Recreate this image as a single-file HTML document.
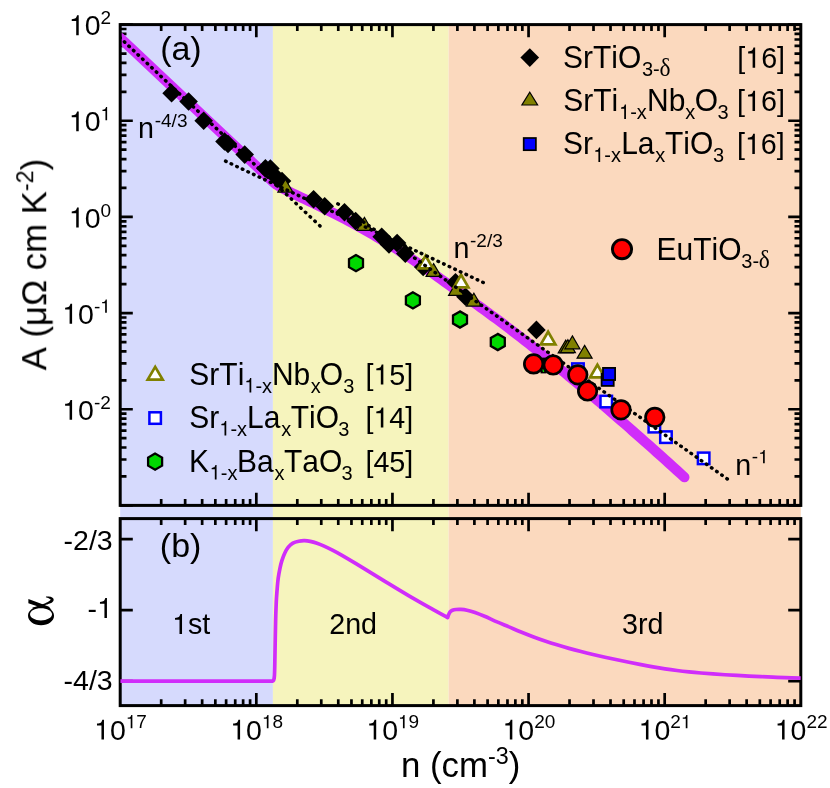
<!DOCTYPE html>
<html><head><meta charset="utf-8"><title>chart</title>
<style>html,body{margin:0;padding:0;background:#fff;}svg{display:block;will-change:transform;}text{font-kerning:none;}</style>
</head><body>
<svg width="830" height="788" viewBox="0 0 830 788">
<rect width="830" height="788" fill="#ffffff"/>
<rect x="120.20" y="24.60" width="152.70" height="681.00" fill="#d6dafd"/>
<rect x="272.90" y="24.60" width="175.70" height="681.00" fill="#f6f4bd"/>
<rect x="448.60" y="24.60" width="352.20" height="681.00" fill="#fbd9be"/>
<defs>
<clipPath id="ca"><rect x="120.20" y="24.60" width="680.60" height="480.80"/></clipPath>
<clipPath id="cb"><rect x="120.20" y="518.60" width="680.60" height="187.00"/></clipPath>
<filter id="ga" x="0" y="0" width="830" height="788" filterUnits="userSpaceOnUse" color-interpolation-filters="sRGB"><feOffset dx="0" dy="0"/></filter>
</defs>
<path d="M161.18,24.60v6.30M161.18,505.40v-6.30M161.18,518.60v6.30M161.18,705.60v-6.30M185.15,24.60v6.30M185.15,505.40v-6.30M185.15,518.60v6.30M185.15,705.60v-6.30M202.15,24.60v6.30M202.15,505.40v-6.30M202.15,518.60v6.30M202.15,705.60v-6.30M215.34,24.60v6.30M215.34,505.40v-6.30M215.34,518.60v6.30M215.34,705.60v-6.30M226.12,24.60v6.30M226.12,505.40v-6.30M226.12,518.60v6.30M226.12,705.60v-6.30M235.23,24.60v6.30M235.23,505.40v-6.30M235.23,518.60v6.30M235.23,705.60v-6.30M243.13,24.60v6.30M243.13,505.40v-6.30M243.13,518.60v6.30M243.13,705.60v-6.30M250.09,24.60v6.30M250.09,505.40v-6.30M250.09,518.60v6.30M250.09,705.60v-6.30M256.32,24.60v12.60M256.32,505.40v-12.60M256.32,518.60v12.60M256.32,705.60v-12.60M297.30,24.60v6.30M297.30,505.40v-6.30M297.30,518.60v6.30M297.30,705.60v-6.30M321.27,24.60v6.30M321.27,505.40v-6.30M321.27,518.60v6.30M321.27,705.60v-6.30M338.27,24.60v6.30M338.27,505.40v-6.30M338.27,518.60v6.30M338.27,705.60v-6.30M351.46,24.60v6.30M351.46,505.40v-6.30M351.46,518.60v6.30M351.46,705.60v-6.30M362.24,24.60v6.30M362.24,505.40v-6.30M362.24,518.60v6.30M362.24,705.60v-6.30M371.35,24.60v6.30M371.35,505.40v-6.30M371.35,518.60v6.30M371.35,705.60v-6.30M379.25,24.60v6.30M379.25,505.40v-6.30M379.25,518.60v6.30M379.25,705.60v-6.30M386.21,24.60v6.30M386.21,505.40v-6.30M386.21,518.60v6.30M386.21,705.60v-6.30M392.44,24.60v12.60M392.44,505.40v-12.60M392.44,518.60v12.60M392.44,705.60v-12.60M433.42,24.60v6.30M433.42,505.40v-6.30M433.42,518.60v6.30M433.42,705.60v-6.30M457.39,24.60v6.30M457.39,505.40v-6.30M457.39,518.60v6.30M457.39,705.60v-6.30M474.39,24.60v6.30M474.39,505.40v-6.30M474.39,518.60v6.30M474.39,705.60v-6.30M487.58,24.60v6.30M487.58,505.40v-6.30M487.58,518.60v6.30M487.58,705.60v-6.30M498.36,24.60v6.30M498.36,505.40v-6.30M498.36,518.60v6.30M498.36,705.60v-6.30M507.47,24.60v6.30M507.47,505.40v-6.30M507.47,518.60v6.30M507.47,705.60v-6.30M515.37,24.60v6.30M515.37,505.40v-6.30M515.37,518.60v6.30M515.37,705.60v-6.30M522.33,24.60v6.30M522.33,505.40v-6.30M522.33,518.60v6.30M522.33,705.60v-6.30M528.56,24.60v12.60M528.56,505.40v-12.60M528.56,518.60v12.60M528.56,705.60v-12.60M569.54,24.60v6.30M569.54,505.40v-6.30M569.54,518.60v6.30M569.54,705.60v-6.30M593.51,24.60v6.30M593.51,505.40v-6.30M593.51,518.60v6.30M593.51,705.60v-6.30M610.51,24.60v6.30M610.51,505.40v-6.30M610.51,518.60v6.30M610.51,705.60v-6.30M623.70,24.60v6.30M623.70,505.40v-6.30M623.70,518.60v6.30M623.70,705.60v-6.30M634.48,24.60v6.30M634.48,505.40v-6.30M634.48,518.60v6.30M634.48,705.60v-6.30M643.59,24.60v6.30M643.59,505.40v-6.30M643.59,518.60v6.30M643.59,705.60v-6.30M651.49,24.60v6.30M651.49,505.40v-6.30M651.49,518.60v6.30M651.49,705.60v-6.30M658.45,24.60v6.30M658.45,505.40v-6.30M658.45,518.60v6.30M658.45,705.60v-6.30M664.68,24.60v12.60M664.68,505.40v-12.60M664.68,518.60v12.60M664.68,705.60v-12.60M705.66,24.60v6.30M705.66,505.40v-6.30M705.66,518.60v6.30M705.66,705.60v-6.30M729.63,24.60v6.30M729.63,505.40v-6.30M729.63,518.60v6.30M729.63,705.60v-6.30M746.63,24.60v6.30M746.63,505.40v-6.30M746.63,518.60v6.30M746.63,705.60v-6.30M759.82,24.60v6.30M759.82,505.40v-6.30M759.82,518.60v6.30M759.82,705.60v-6.30M770.60,24.60v6.30M770.60,505.40v-6.30M770.60,518.60v6.30M770.60,705.60v-6.30M779.71,24.60v6.30M779.71,505.40v-6.30M779.71,518.60v6.30M779.71,705.60v-6.30M787.61,24.60v6.30M787.61,505.40v-6.30M787.61,518.60v6.30M787.61,705.60v-6.30M794.57,24.60v6.30M794.57,505.40v-6.30M794.57,518.60v6.30M794.57,705.60v-6.30M120.20,505.40h12.60M800.80,505.40h-12.60M120.20,476.45h6.30M800.80,476.45h-6.30M120.20,459.52h6.30M800.80,459.52h-6.30M120.20,447.51h6.30M800.80,447.51h-6.30M120.20,438.19h6.30M800.80,438.19h-6.30M120.20,430.57h6.30M800.80,430.57h-6.30M120.20,424.14h6.30M800.80,424.14h-6.30M120.20,418.56h6.30M800.80,418.56h-6.30M120.20,413.64h6.30M800.80,413.64h-6.30M120.20,409.24h12.60M800.80,409.24h-12.60M120.20,380.29h6.30M800.80,380.29h-6.30M120.20,363.36h6.30M800.80,363.36h-6.30M120.20,351.35h6.30M800.80,351.35h-6.30M120.20,342.03h6.30M800.80,342.03h-6.30M120.20,334.41h6.30M800.80,334.41h-6.30M120.20,327.98h6.30M800.80,327.98h-6.30M120.20,322.40h6.30M800.80,322.40h-6.30M120.20,317.48h6.30M800.80,317.48h-6.30M120.20,313.08h12.60M800.80,313.08h-12.60M120.20,284.13h6.30M800.80,284.13h-6.30M120.20,267.20h6.30M800.80,267.20h-6.30M120.20,255.19h6.30M800.80,255.19h-6.30M120.20,245.87h6.30M800.80,245.87h-6.30M120.20,238.25h6.30M800.80,238.25h-6.30M120.20,231.82h6.30M800.80,231.82h-6.30M120.20,226.24h6.30M800.80,226.24h-6.30M120.20,221.32h6.30M800.80,221.32h-6.30M120.20,216.92h12.60M800.80,216.92h-12.60M120.20,187.97h6.30M800.80,187.97h-6.30M120.20,171.04h6.30M800.80,171.04h-6.30M120.20,159.03h6.30M800.80,159.03h-6.30M120.20,149.71h6.30M800.80,149.71h-6.30M120.20,142.09h6.30M800.80,142.09h-6.30M120.20,135.66h6.30M800.80,135.66h-6.30M120.20,130.08h6.30M800.80,130.08h-6.30M120.20,125.16h6.30M800.80,125.16h-6.30M120.20,120.76h12.60M800.80,120.76h-12.60M120.20,91.81h6.30M800.80,91.81h-6.30M120.20,74.88h6.30M800.80,74.88h-6.30M120.20,62.87h6.30M800.80,62.87h-6.30M120.20,53.55h6.30M800.80,53.55h-6.30M120.20,45.93h6.30M800.80,45.93h-6.30M120.20,39.50h6.30M800.80,39.50h-6.30M120.20,33.92h6.30M800.80,33.92h-6.30M120.20,29.00h6.30M800.80,29.00h-6.30M120.20,24.60h12.60M800.80,24.60h-12.60M120.20,539.20h12.60M800.80,539.20h-12.60M120.20,610.20h12.60M800.80,610.20h-12.60M120.20,681.20h12.60M800.80,681.20h-12.60" fill="none" stroke="#000" stroke-width="2.7"/>
<g clip-path="url(#ca)">
<path d="M120.2,37.9 L272.9,181.7 L276.9,185.0 L280.9,187.4 L284.9,189.5 L288.9,191.5 L292.9,193.5 L296.9,195.4 L300.9,197.3 L304.9,199.2 L308.9,201.1 L312.9,203.0 L316.9,205.0 L320.9,206.9 L324.9,208.9 L328.9,210.9 L332.9,212.9 L336.9,214.9 L340.9,217.0 L344.9,219.1 L348.9,221.2 L352.9,223.4 L356.9,225.6 L360.9,227.8 L364.9,230.1 L368.9,232.4 L372.9,234.7 L376.9,237.0 L380.9,239.4 L384.9,241.9 L388.9,244.3 L392.9,246.8 L396.9,249.3 L400.9,251.9 L404.9,254.4 L408.9,257.1 L412.9,259.7 L416.9,262.4 L420.9,265.1 L424.9,267.8 L428.9,270.6 L432.9,273.4 L436.9,276.2 L440.9,279.1 L444.9,282.0 L448.9,284.9 L452.9,287.7 L456.9,290.5 L460.9,293.3 L464.9,296.1 L468.9,299.0 L472.9,301.8 L476.9,304.6 L480.9,307.5 L484.9,310.4 L488.9,313.3 L492.9,316.3 L496.9,319.2 L500.9,322.2 L504.9,325.2 L508.9,328.3 L512.9,331.3 L516.9,334.4 L520.9,337.5 L524.9,340.6 L528.9,343.7 L532.9,346.9 L536.9,350.1 L540.9,353.3 L544.9,356.5 L548.9,359.7 L552.9,363.0 L556.9,366.3 L560.9,369.6 L564.9,372.9 L568.9,376.2 L572.9,379.5 L576.9,382.9 L580.9,386.2 L584.9,389.6 L588.9,393.0 L592.9,396.4 L596.9,399.8 L600.9,403.2 L604.9,406.7 L608.9,410.1 L612.9,413.6 L616.9,417.1 L620.9,420.5 L624.9,424.0 L628.9,427.5 L632.9,431.1 L636.9,434.6 L640.9,438.1 L644.9,441.7 L648.9,445.2 L652.9,448.8 L656.9,452.4 L660.9,455.9 L664.9,459.5 L668.9,463.1 L672.9,466.8 L676.9,470.4 L680.9,474.0 L684.4,477.2" fill="none" stroke="#d02dfa" stroke-width="10.2" stroke-linecap="round" stroke-linejoin="round"/>
</g>
<polygon points="356.0,255.0 349.0,259.1 349.0,267.2 356.0,271.2 363.0,267.2 363.0,259.1" fill="#00d800" stroke="#000" stroke-width="2.3" stroke-linejoin="miter"/>
<polygon points="412.9,292.3 405.9,296.3 405.9,304.4 412.9,308.5 419.9,304.4 419.9,296.3" fill="#00d800" stroke="#000" stroke-width="2.3" stroke-linejoin="miter"/>
<polygon points="460.0,311.4 453.0,315.4 453.0,323.6 460.0,327.6 467.0,323.6 467.0,315.4" fill="#00d800" stroke="#000" stroke-width="2.3" stroke-linejoin="miter"/>
<polygon points="497.8,333.9 490.8,337.9 490.8,346.1 497.8,350.1 504.8,346.1 504.8,337.9" fill="#00d800" stroke="#000" stroke-width="2.3" stroke-linejoin="miter"/>
<path d="M540.5,357.6 H546.5 V373.4 H540.5Z" fill="#000"/>
<path d="M542.2,369.3 L543.5,369.3 L544.3,372.0 L543.0,372.0Z" fill="#00d800"/>
<path d="M171.6,83.9 L180.9,93.2 L171.6,102.5 L162.3,93.2Z" fill="#000"/>
<path d="M188.6,92.2 L197.9,101.5 L188.6,110.8 L179.3,101.5Z" fill="#000"/>
<path d="M203.7,111.5 L213.0,120.8 L203.7,130.1 L194.4,120.8Z" fill="#000"/>
<path d="M224.5,132.2 L233.8,141.5 L224.5,150.8 L215.2,141.5Z" fill="#000"/>
<path d="M228.0,134.7 L237.3,144.0 L228.0,153.3 L218.7,144.0Z" fill="#000"/>
<path d="M244.7,145.3 L254.0,154.6 L244.7,163.9 L235.4,154.6Z" fill="#000"/>
<path d="M265.4,159.1 L274.7,168.4 L265.4,177.7 L256.1,168.4Z" fill="#000"/>
<path d="M270.4,159.2 L279.7,168.5 L270.4,177.8 L261.1,168.5Z" fill="#000"/>
<path d="M277.0,168.7 L286.3,178.0 L277.0,187.3 L267.7,178.0Z" fill="#000"/>
<path d="M282.0,171.7 L291.3,181.0 L282.0,190.3 L272.7,181.0Z" fill="#000"/>
<path d="M313.6,189.9 L322.9,199.2 L313.6,208.5 L304.3,199.2Z" fill="#000"/>
<path d="M324.7,197.0 L334.0,206.3 L324.7,215.6 L315.4,206.3Z" fill="#000"/>
<path d="M344.5,202.9 L353.8,212.2 L344.5,221.5 L335.2,212.2Z" fill="#000"/>
<path d="M355.6,211.7 L364.9,221.0 L355.6,230.3 L346.3,221.0Z" fill="#000"/>
<path d="M381.7,227.5 L391.0,236.8 L381.7,246.1 L372.4,236.8Z" fill="#000"/>
<path d="M389.0,235.1 L398.3,244.4 L389.0,253.7 L379.7,244.4Z" fill="#000"/>
<path d="M397.1,233.7 L406.4,243.0 L397.1,252.3 L387.8,243.0Z" fill="#000"/>
<path d="M405.3,244.3 L414.6,253.6 L405.3,262.9 L396.0,253.6Z" fill="#000"/>
<path d="M423.2,257.7 L432.5,267.0 L423.2,276.3 L413.9,267.0Z" fill="#000"/>
<path d="M455.5,273.0 L464.8,282.3 L455.5,291.6 L446.2,282.3Z" fill="#000"/>
<path d="M465.5,287.5 L474.8,296.8 L465.5,306.1 L456.2,296.8Z" fill="#000"/>
<path d="M536.4,320.6 L545.7,329.9 L536.4,339.2 L527.1,329.9Z" fill="#000"/>
<path d="M285.4,179.2 L292.9,192.1 L277.9,192.1Z" fill="#808000" stroke="#000" stroke-width="1.2" stroke-linejoin="miter"/>
<path d="M364.4,217.4 L371.9,230.3 L356.9,230.3Z" fill="#808000" stroke="#000" stroke-width="1.2" stroke-linejoin="miter"/>
<path d="M433.6,263.6 L441.1,276.4 L426.1,276.4Z" fill="#808000" stroke="#000" stroke-width="1.2" stroke-linejoin="miter"/>
<path d="M456.1,282.5 L463.6,295.4 L448.6,295.4Z" fill="#808000" stroke="#000" stroke-width="1.2" stroke-linejoin="miter"/>
<path d="M473.9,293.2 L481.4,306.1 L466.4,306.1Z" fill="#808000" stroke="#000" stroke-width="1.2" stroke-linejoin="miter"/>
<path d="M565.7,340.1 L573.2,352.9 L558.2,352.9Z" fill="#808000" stroke="#000" stroke-width="1.2" stroke-linejoin="miter"/>
<path d="M567.9,339.7 L575.4,352.6 L560.4,352.6Z" fill="#808000" stroke="#000" stroke-width="1.2" stroke-linejoin="miter"/>
<path d="M572.4,335.9 L579.9,348.8 L564.9,348.8Z" fill="#808000" stroke="#000" stroke-width="1.2" stroke-linejoin="miter"/>
<path d="M584.6,345.4 L592.1,358.2 L577.1,358.2Z" fill="#808000" stroke="#000" stroke-width="1.2" stroke-linejoin="miter"/>
<path d="M425.6,255.7 L432.9,268.3 L418.3,268.3Z" fill="#fff" stroke="#808000" stroke-width="2.7" stroke-linejoin="miter"/>
<path d="M461.1,274.7 L468.4,287.3 L453.8,287.3Z" fill="#fff" stroke="#808000" stroke-width="2.7" stroke-linejoin="miter"/>
<path d="M548.1,331.8 L555.4,344.4 L540.8,344.4Z" fill="#fff" stroke="#808000" stroke-width="2.7" stroke-linejoin="miter"/>
<path d="M597.4,364.7 L604.7,377.3 L590.1,377.3Z" fill="#fff" stroke="#808000" stroke-width="2.7" stroke-linejoin="miter"/>
<rect x="601.6" y="373.8" width="12.1" height="12.1" fill="#0000ff" stroke="#000" stroke-width="1.8"/>
<rect x="603.0" y="367.9" width="12.1" height="12.1" fill="#0000ff" stroke="#000" stroke-width="1.8"/>
<rect x="572.2" y="363.4" width="11.5" height="11.5" fill="#fff" stroke="#0000ff" stroke-width="2.5"/>
<rect x="600.5" y="395.8" width="11.5" height="11.5" fill="#fff" stroke="#0000ff" stroke-width="2.5"/>
<rect x="648.6" y="420.9" width="11.5" height="11.5" fill="#fff" stroke="#0000ff" stroke-width="2.5"/>
<rect x="660.2" y="431.4" width="11.5" height="11.5" fill="#fff" stroke="#0000ff" stroke-width="2.5"/>
<rect x="697.9" y="452.6" width="11.5" height="11.5" fill="#fff" stroke="#0000ff" stroke-width="2.5"/>
<g clip-path="url(#ca)">
<path d="M119.78,37.56L120.22,37.98M124.33,41.84L124.77,42.26M128.88,46.13L129.32,46.54M133.44,50.42L133.88,50.83M138.00,54.71L138.44,55.12M142.57,59.01L143.01,59.42M147.14,63.31L147.58,63.72M151.72,67.62L152.15,68.03M156.30,71.93L156.73,72.34M160.88,76.24L161.32,76.65M165.47,80.56L165.91,80.97M170.07,84.89L170.50,85.30M174.67,89.21L175.10,89.63M179.27,93.55L179.71,93.96M183.88,97.88L184.32,98.30M188.49,102.23L188.93,102.64M193.11,106.57L193.55,106.98M197.73,110.92L198.17,111.33M202.36,115.28L202.80,115.69M206.99,119.64L207.43,120.05M211.63,124.00L212.07,124.41M216.27,128.37L216.71,128.78M220.92,132.74L221.35,133.15M225.57,137.12L226.01,137.53M230.22,141.50L230.66,141.91M234.89,145.89L235.32,146.30M239.55,150.28L239.99,150.69M244.22,154.67L244.66,155.08M248.89,159.07L249.33,159.48M253.57,163.47L254.01,163.89M258.26,167.88L258.69,168.29M262.95,172.30L263.38,172.71M267.64,176.71L268.08,177.12M272.34,181.13L272.77,181.54M277.04,185.56L277.48,185.97M281.75,189.99L282.18,190.40M286.46,194.42L286.90,194.84M291.18,198.86L291.61,199.27M295.90,203.31L296.34,203.72M300.63,207.75L301.06,208.17M305.36,212.21L305.79,212.62M310.09,216.66L310.53,217.07M314.83,221.12L315.27,221.54M319.58,225.59L320.01,226.00" fill="none" stroke="#000" stroke-width="3.45" stroke-linecap="round"/>
<path d="M225.53,161.17 L483.27,282.56" fill="none" stroke="#000" stroke-width="3.45" stroke-linecap="round" stroke-dasharray="0.6 5.5804"/>
<path d="M337.85,203.83 L727.35,478.98" fill="none" stroke="#000" stroke-width="3.45" stroke-linecap="round" stroke-dasharray="0.6 5.6668"/>
</g>
<circle cx="533.6" cy="363.9" r="9.25" fill="#ff0000" stroke="#000" stroke-width="2.7"/>
<circle cx="553.2" cy="365.0" r="9.25" fill="#ff0000" stroke="#000" stroke-width="2.7"/>
<circle cx="577.8" cy="374.8" r="9.25" fill="#ff0000" stroke="#000" stroke-width="2.7"/>
<circle cx="587.6" cy="391.0" r="9.25" fill="#ff0000" stroke="#000" stroke-width="2.7"/>
<circle cx="621.0" cy="409.8" r="9.25" fill="#ff0000" stroke="#000" stroke-width="2.7"/>
<circle cx="654.8" cy="417.3" r="9.25" fill="#ff0000" stroke="#000" stroke-width="2.7"/>
<rect x="120.20" y="24.60" width="680.60" height="480.80" fill="none" stroke="#000" stroke-width="3.0"/>
<rect x="120.20" y="518.60" width="680.60" height="187.00" fill="none" stroke="#000" stroke-width="3.0"/>
<path d="M120.3,681.1 L272.4,681.1 L272.40,681.10 C272.60,680.98 273.27,681.25 273.60,680.40 C273.93,679.55 274.20,678.73 274.40,676.00 C274.60,673.27 274.68,668.88 274.80,664.00 C274.92,659.12 274.97,653.80 275.10,646.70 C275.23,639.60 275.42,628.60 275.60,621.40 C275.78,614.20 276.03,607.65 276.20,603.50 C276.37,599.35 276.43,599.10 276.60,596.50 C276.78,593.90 276.98,590.93 277.25,587.90 C277.52,584.87 277.76,581.52 278.20,578.30 C278.64,575.08 279.30,571.50 279.90,568.60 C280.50,565.70 281.00,563.47 281.80,560.90 C282.60,558.33 283.65,555.45 284.70,553.20 C285.75,550.95 286.73,549.08 288.10,547.40 C289.47,545.72 291.13,544.13 292.90,543.10 C294.67,542.07 296.77,541.60 298.70,541.20 C300.63,540.80 302.57,540.67 304.50,540.70 C306.43,540.73 308.22,540.97 310.30,541.40 C312.38,541.83 314.60,542.47 317.00,543.30 C319.40,544.13 321.97,545.18 324.70,546.40 C327.43,547.62 330.52,549.12 333.40,550.60 C336.28,552.08 338.23,553.13 342.00,555.30 C345.77,557.47 349.25,559.52 356.00,563.60 C362.75,567.68 373.67,574.43 382.50,579.80 C391.33,585.17 400.17,590.62 409.00,595.80 C417.83,600.98 429.07,607.27 435.50,610.90 C441.93,614.53 445.58,616.48 447.60,617.60 L447.60,617.60 C447.75,617.17 448.10,615.93 448.50,615.00 C448.90,614.07 449.33,612.78 450.00,612.00 C450.67,611.22 451.50,610.72 452.50,610.30 C453.50,609.88 454.58,609.65 456.00,609.50 C457.42,609.35 459.17,609.28 461.00,609.40 C462.83,609.52 464.67,609.68 467.00,610.20 C469.33,610.72 472.07,611.48 475.00,612.50 C477.93,613.52 480.93,614.73 484.60,616.30 C488.27,617.87 492.93,620.13 497.00,621.90 C501.07,623.67 505.00,625.22 509.00,626.90 C513.00,628.58 517.00,630.32 521.00,631.95 C525.00,633.58 529.00,635.16 533.00,636.66 C537.00,638.16 541.00,639.60 545.00,640.96 C549.00,642.33 553.00,643.62 557.00,644.85 C561.00,646.08 565.00,647.24 569.00,648.36 C573.00,649.48 577.00,650.53 581.00,651.55 C585.00,652.57 589.00,653.54 593.00,654.48 C597.00,655.42 601.00,656.33 605.00,657.21 C609.00,658.10 613.00,658.95 617.00,659.79 C621.00,660.63 625.00,661.46 629.00,662.27 C633.00,663.08 637.00,663.88 641.00,664.65 C645.00,665.42 649.00,666.17 653.00,666.87 C657.00,667.57 661.00,668.23 665.00,668.84 C669.00,669.45 673.00,670.00 677.00,670.51 C681.00,671.02 685.00,671.47 689.00,671.89 C693.00,672.31 697.00,672.67 701.00,673.01 C705.00,673.35 709.00,673.65 713.00,673.94 C717.00,674.23 721.00,674.48 725.00,674.73 C729.00,674.98 733.00,675.20 737.00,675.42 C741.00,675.64 745.00,675.84 749.00,676.04 C753.00,676.24 757.00,676.43 761.00,676.61 C765.00,676.79 769.00,676.97 773.00,677.14 C777.00,677.31 780.37,677.44 785.00,677.62 C789.63,677.80 798.17,678.10 800.80,678.20" fill="none" stroke="#d02dfa" stroke-width="3.7" stroke-linejoin="round" clip-path="url(#cb)"/>
<path d="M529.8,48.2 L539.1,57.6 L529.8,67.0 L520.4,57.6Z" fill="#000"/>
<path d="M529.8,92.2 L537.6,105.0 L521.9,105.0Z" fill="#808000" stroke="#000" stroke-width="1.2" stroke-linejoin="miter"/>
<rect x="523.7" y="138.0" width="12.2" height="12.2" fill="#0000ff" stroke="#000" stroke-width="1.7"/>
<circle cx="622.0" cy="249.2" r="9.6" fill="#ff0000" stroke="#000" stroke-width="2.9"/>
<path d="M155.2,366.9 L162.7,379.6 L147.7,379.6Z" fill="#fff" stroke="#808000" stroke-width="2.7" stroke-linejoin="miter"/>
<rect x="149.4" y="412.3" width="11.5" height="11.5" fill="#fff" stroke="#0000ff" stroke-width="2.5"/>
<polygon points="155.1,453.5 148.1,457.6 148.1,465.7 155.1,469.7 162.1,465.7 162.1,457.6" fill="#00d800" stroke="#000" stroke-width="2.3" stroke-linejoin="miter"/>
<g transform="translate(15,585) scale(0.07231)"><path fill="#000" fill-rule="evenodd" d="M360,293 C460,293 540,352 540,425 C540,498 460,557 360,557 C260,557 180,498 180,425 C180,352 260,293 360,293Z M358,322 C275,322 208,358 208,405 C208,452 275,490 358,490 C441,490 512,452 512,405 C512,358 441,322 358,322Z"/><path fill="#000" d="M185,192 L185,252 L330,300 L430,318 L505,345 L470,300 L400,272Z"/><path fill="#000" d="M248,332 L258,328 L268,325 L278,322 L288,319 L298,316 L308,313 L318,309 L328,306 L338,303 L348,300 L358,296 L368,293 L378,290 L388,287 L398,284 L408,280 L418,277 L428,274 L438,271 L448,268 L459,264 L469,261 L480,257 L490,253 L501,248 L512,242 L522,233 L531,221 L535,204 L530,186 L519,175 L507,168 L495,164 L483,162 L472,160 L461,160 L450,159 L440,159 L429,159 L427,171 L437,174 L447,177 L457,181 L466,184 L475,189 L483,193 L489,198 L493,203 L493,206 L492,203 L492,203 L490,206 L486,211 L480,217 L473,222 L465,228 L457,233 L448,238 L439,243 L429,247 L420,251 L410,255 L401,259 L391,263 L381,266 L371,270 L361,273 L351,277 L342,280 L332,284 L322,287 L312,290 L302,293 L292,297 L282,300 L272,303 L262,306 L252,309 L242,312Z"/></g>
<path d="M.259,-.498 L.259,0 L.347,0 L.347,-.700 L.289,-.700 C.258,-.593 .238,-.578 .102,-.561 L.102,-.498Z" fill="#000" transform="translate(94.08,739.60) scale(28.50,28.50)"/>
<path d="M.259,-.498 L.259,0 L.347,0 L.347,-.700 L.289,-.700 C.258,-.593 .238,-.578 .102,-.561 L.102,-.498Z" fill="#000" transform="translate(125.78,728.20) scale(19.00,19.00)"/>
<path d="M.259,-.498 L.259,0 L.347,0 L.347,-.700 L.289,-.700 C.258,-.593 .238,-.578 .102,-.561 L.102,-.498Z" fill="#000" transform="translate(230.20,739.60) scale(28.50,28.50)"/>
<path d="M.259,-.498 L.259,0 L.347,0 L.347,-.700 L.289,-.700 C.258,-.593 .238,-.578 .102,-.561 L.102,-.498Z" fill="#000" transform="translate(261.90,728.20) scale(19.00,19.00)"/>
<path d="M.259,-.498 L.259,0 L.347,0 L.347,-.700 L.289,-.700 C.258,-.593 .238,-.578 .102,-.561 L.102,-.498Z" fill="#000" transform="translate(366.32,739.60) scale(28.50,28.50)"/>
<path d="M.259,-.498 L.259,0 L.347,0 L.347,-.700 L.289,-.700 C.258,-.593 .238,-.578 .102,-.561 L.102,-.498Z" fill="#000" transform="translate(398.02,728.20) scale(19.00,19.00)"/>
<path d="M.259,-.498 L.259,0 L.347,0 L.347,-.700 L.289,-.700 C.258,-.593 .238,-.578 .102,-.561 L.102,-.498Z" fill="#000" transform="translate(502.44,739.60) scale(28.50,28.50)"/>
<path d="M.259,-.498 L.259,0 L.347,0 L.347,-.700 L.289,-.700 C.258,-.593 .238,-.578 .102,-.561 L.102,-.498Z" fill="#000" transform="translate(638.56,739.60) scale(28.50,28.50)"/>
<path d="M.259,-.498 L.259,0 L.347,0 L.347,-.700 L.289,-.700 C.258,-.593 .238,-.578 .102,-.561 L.102,-.498Z" fill="#000" transform="translate(680.83,728.20) scale(19.00,19.00)"/>
<path d="M.259,-.498 L.259,0 L.347,0 L.347,-.700 L.289,-.700 C.258,-.593 .238,-.578 .102,-.561 L.102,-.498Z" fill="#000" transform="translate(774.68,739.60) scale(28.50,28.50)"/>
<path d="M.259,-.498 L.259,0 L.347,0 L.347,-.700 L.289,-.700 C.258,-.593 .238,-.578 .102,-.561 L.102,-.498Z" fill="#000" transform="translate(68.83,35.20) scale(28.50,28.50)"/>
<path d="M.259,-.498 L.259,0 L.347,0 L.347,-.700 L.289,-.700 C.258,-.593 .238,-.578 .102,-.561 L.102,-.498Z" fill="#000" transform="translate(68.83,131.36) scale(28.50,28.50)"/>
<path d="M.259,-.498 L.259,0 L.347,0 L.347,-.700 L.289,-.700 C.258,-.593 .238,-.578 .102,-.561 L.102,-.498Z" fill="#000" transform="translate(100.53,120.36) scale(19.00,19.00)"/>
<path d="M.259,-.498 L.259,0 L.347,0 L.347,-.700 L.289,-.700 C.258,-.593 .238,-.578 .102,-.561 L.102,-.498Z" fill="#000" transform="translate(68.83,227.52) scale(28.50,28.50)"/>
<path d="M.259,-.498 L.259,0 L.347,0 L.347,-.700 L.289,-.700 C.258,-.593 .238,-.578 .102,-.561 L.102,-.498Z" fill="#000" transform="translate(62.21,323.68) scale(28.50,28.50)"/>
<path d="M.259,-.498 L.259,0 L.347,0 L.347,-.700 L.289,-.700 C.258,-.593 .238,-.578 .102,-.561 L.102,-.498Z" fill="#000" transform="translate(100.23,312.68) scale(19.00,19.00)"/>
<path d="M.259,-.498 L.259,0 L.347,0 L.347,-.700 L.289,-.700 C.258,-.593 .238,-.578 .102,-.561 L.102,-.498Z" fill="#000" transform="translate(62.21,419.84) scale(28.50,28.50)"/>
<path d="M.259,-.498 L.259,0 L.347,0 L.347,-.700 L.289,-.700 C.258,-.593 .238,-.578 .102,-.561 L.102,-.498Z" fill="#000" transform="translate(97.05,618.00) scale(28.50,28.50)"/>
<path d="M.259,-.498 L.259,0 L.347,0 L.347,-.700 L.289,-.700 C.258,-.593 .238,-.578 .102,-.561 L.102,-.498Z" fill="#000" transform="translate(172.07,634.00) scale(28.70,28.70)"/>
<path d="M.259,-.498 L.259,0 L.347,0 L.347,-.700 L.289,-.700 C.258,-.593 .238,-.578 .102,-.561 L.102,-.498Z" fill="#000" transform="translate(758.14,463.30) scale(19.00,19.00)"/>
<path d="M.259,-.498 L.259,0 L.347,0 L.347,-.700 L.289,-.700 C.258,-.593 .238,-.578 .102,-.561 L.102,-.498Z" fill="#000" transform="translate(745.19,67.70) scale(28.70,28.70)"/>
<path d="M.259,-.498 L.259,0 L.347,0 L.347,-.700 L.289,-.700 C.258,-.593 .238,-.578 .102,-.561 L.102,-.498Z" fill="#000" transform="translate(619.03,119.00) scale(20.00,20.70)"/>
<path d="M.259,-.498 L.259,0 L.347,0 L.347,-.700 L.289,-.700 C.258,-.593 .238,-.578 .102,-.561 L.102,-.498Z" fill="#000" transform="translate(745.09,110.90) scale(28.70,28.70)"/>
<path d="M.259,-.498 L.259,0 L.347,0 L.347,-.700 L.289,-.700 C.258,-.593 .238,-.578 .102,-.561 L.102,-.498Z" fill="#000" transform="translate(593.23,162.00) scale(20.00,20.70)"/>
<path d="M.259,-.498 L.259,0 L.347,0 L.347,-.700 L.289,-.700 C.258,-.593 .238,-.578 .102,-.561 L.102,-.498Z" fill="#000" transform="translate(744.89,153.90) scale(28.70,28.70)"/>
<path d="M.259,-.498 L.259,0 L.347,0 L.347,-.700 L.289,-.700 C.258,-.593 .238,-.578 .102,-.561 L.102,-.498Z" fill="#000" transform="translate(244.33,392.50) scale(20.00,20.70)"/>
<path d="M.259,-.498 L.259,0 L.347,0 L.347,-.700 L.289,-.700 C.258,-.593 .238,-.578 .102,-.561 L.102,-.498Z" fill="#000" transform="translate(373.39,384.50) scale(28.70,28.70)"/>
<path d="M.259,-.498 L.259,0 L.347,0 L.347,-.700 L.289,-.700 C.258,-.593 .238,-.578 .102,-.561 L.102,-.498Z" fill="#000" transform="translate(219.33,435.60) scale(20.00,20.70)"/>
<path d="M.259,-.498 L.259,0 L.347,0 L.347,-.700 L.289,-.700 C.258,-.593 .238,-.578 .102,-.561 L.102,-.498Z" fill="#000" transform="translate(373.39,427.60) scale(28.70,28.70)"/>
<path d="M.259,-.498 L.259,0 L.347,0 L.347,-.700 L.289,-.700 C.258,-.593 .238,-.578 .102,-.561 L.102,-.498Z" fill="#000" transform="translate(209.63,479.50) scale(20.00,20.70)"/>
<g filter="url(#ga)">
<g font-family="Liberation Sans, sans-serif" fill="#000"><text x="109.93" y="739.60" font-size="28.50" xml:space="preserve">0</text><text x="136.35" y="728.20" font-size="19.00" xml:space="preserve">7</text></g>
<g font-family="Liberation Sans, sans-serif" fill="#000"><text x="246.05" y="739.60" font-size="28.50" xml:space="preserve">0</text><text x="272.47" y="728.20" font-size="19.00" xml:space="preserve">8</text></g>
<g font-family="Liberation Sans, sans-serif" fill="#000"><text x="382.17" y="739.60" font-size="28.50" xml:space="preserve">0</text><text x="408.59" y="728.20" font-size="19.00" xml:space="preserve">9</text></g>
<g font-family="Liberation Sans, sans-serif" fill="#000"><text x="518.29" y="739.60" font-size="28.50" xml:space="preserve">0</text><text x="534.14" y="728.20" font-size="19.00" xml:space="preserve">20</text></g>
<g font-family="Liberation Sans, sans-serif" fill="#000"><text x="654.41" y="739.60" font-size="28.50" xml:space="preserve">0</text><text x="670.26" y="728.20" font-size="19.00">2</text></g>
<g font-family="Liberation Sans, sans-serif" fill="#000"><text x="790.53" y="739.60" font-size="28.50" xml:space="preserve">0</text><text x="806.38" y="728.20" font-size="19.00" xml:space="preserve">22</text></g>
<g font-family="Liberation Sans, sans-serif" fill="#000"><text x="84.68" y="35.20" font-size="28.50" xml:space="preserve">0</text><text x="100.53" y="24.20" font-size="19.00" xml:space="preserve">2</text></g>
<g font-family="Liberation Sans, sans-serif" fill="#000"><text x="84.68" y="131.36" font-size="28.50" xml:space="preserve">0</text></g>
<g font-family="Liberation Sans, sans-serif" fill="#000"><text x="84.68" y="227.52" font-size="28.50" xml:space="preserve">0</text><text x="100.53" y="216.52" font-size="19.00" xml:space="preserve">0</text></g>
<g font-family="Liberation Sans, sans-serif" fill="#000"><text x="78.06" y="323.68" font-size="28.50" xml:space="preserve">0</text><text x="93.91" y="312.68" font-size="19.00">-</text></g>
<g font-family="Liberation Sans, sans-serif" fill="#000"><text x="78.06" y="419.84" font-size="28.50" xml:space="preserve">0</text><text x="93.91" y="408.84" font-size="19.00" xml:space="preserve">-2</text></g>
<g font-family="Liberation Sans, sans-serif" fill="#000"><text x="63.59" y="549.50" font-size="28.50" xml:space="preserve">-2/3</text></g>
<g font-family="Liberation Sans, sans-serif" fill="#000"><text x="87.56" y="618.00" font-size="28.50">-</text></g>
<g font-family="Liberation Sans, sans-serif" fill="#000"><text x="63.59" y="689.50" font-size="28.50" xml:space="preserve">-4/3</text></g>
<g font-family="Liberation Sans, sans-serif" fill="#000"><text x="400.95" y="777.00" font-size="34.80" xml:space="preserve">n (cm</text><text x="487.95" y="763.60" font-size="23.30" xml:space="preserve">-3</text><text x="508.66" y="777.00" font-size="34.80" xml:space="preserve">)</text></g>
<g font-family="Liberation Sans, sans-serif" fill="#000" transform="translate(46.2,264.6) rotate(-90)"><text x="-105.89" y="0.00" font-size="34.80" xml:space="preserve">A (μΩ cm K</text><text x="73.58" y="-13.40" font-size="23.30" xml:space="preserve">-2</text><text x="94.30" y="0.00" font-size="34.80" xml:space="preserve">)</text></g>
<g font-family="Liberation Sans, sans-serif" fill="#000"><text x="160.14" y="59.70" font-size="34.00" xml:space="preserve">(a)</text></g>
<g font-family="Liberation Sans, sans-serif" fill="#000"><text x="159.84" y="557.00" font-size="34.00" xml:space="preserve">(b)</text></g>
<g font-family="Liberation Sans, sans-serif" fill="#000"><text x="188.03" y="634.00" font-size="28.70" xml:space="preserve">st</text></g>
<g font-family="Liberation Sans, sans-serif" fill="#000"><text x="329.21" y="634.00" font-size="28.70" xml:space="preserve">2nd</text></g>
<g font-family="Liberation Sans, sans-serif" fill="#000"><text x="621.96" y="634.00" font-size="28.70" xml:space="preserve">3rd</text></g>
<g font-family="Liberation Sans, sans-serif" fill="#000"><text x="138.06" y="137.70" font-size="28.70" xml:space="preserve">n</text><text x="154.71" y="126.50" font-size="19.00" xml:space="preserve">-4/3</text></g>
<g font-family="Liberation Sans, sans-serif" fill="#000"><text x="453.46" y="257.70" font-size="28.70" xml:space="preserve">n</text><text x="470.01" y="246.50" font-size="19.00" xml:space="preserve">-2/3</text></g>
<g font-family="Liberation Sans, sans-serif" fill="#000"><text x="735.26" y="474.50" font-size="28.70" xml:space="preserve">n</text><text x="751.81" y="463.30" font-size="19.00">-</text></g>
<g font-family="Liberation Sans, sans-serif" fill="#000"><text transform="translate(562.97,67.90) scale(1,1.035)" font-size="30.00" xml:space="preserve">SrTiO</text><text transform="translate(641.89,75.90) scale(1,1.035)" font-size="20.00">3-</text><text transform="translate(659.47,75.90) scale(1,1.035)" font-size="23.40" font-family="Liberation Serif, serif">δ</text></g>
<g font-family="Liberation Sans, sans-serif" fill="#000"><text x="737.21" y="67.70" font-size="28.70">[</text><text x="761.15" y="67.70" font-size="28.70" xml:space="preserve">6]</text></g>
<g font-family="Liberation Sans, sans-serif" fill="#000"><text transform="translate(563.27,111.00) scale(1,1.035)" font-size="30.00" xml:space="preserve">SrTi</text><text transform="translate(630.15,119.00) scale(1,1.035)" font-size="20.00" xml:space="preserve">-x</text><text transform="translate(647.04,111.00) scale(1,1.035)" font-size="30.00" xml:space="preserve">Nb</text><text transform="translate(685.31,119.00) scale(1,1.035)" font-size="20.00" xml:space="preserve">x</text><text transform="translate(694.74,111.00) scale(1,1.035)" font-size="30.00" xml:space="preserve">O</text><text transform="translate(717.59,119.00) scale(1,1.035)" font-size="20.00" xml:space="preserve">3</text></g>
<g font-family="Liberation Sans, sans-serif" fill="#000"><text x="737.11" y="110.90" font-size="28.70">[</text><text x="761.05" y="110.90" font-size="28.70" xml:space="preserve">6]</text></g>
<g font-family="Liberation Sans, sans-serif" fill="#000"><text transform="translate(563.12,154.00) scale(1,1.035)" font-size="30.00" xml:space="preserve">Sr</text><text transform="translate(604.35,162.00) scale(1,1.035)" font-size="20.00" xml:space="preserve">-x</text><text transform="translate(621.19,154.00) scale(1,1.035)" font-size="30.00" xml:space="preserve">La</text><text transform="translate(655.21,162.00) scale(1,1.035)" font-size="20.00" xml:space="preserve">x</text><text transform="translate(664.94,154.00) scale(1,1.035)" font-size="30.00" xml:space="preserve">TiO</text><text transform="translate(713.09,162.00) scale(1,1.035)" font-size="20.00" xml:space="preserve">3</text></g>
<g font-family="Liberation Sans, sans-serif" fill="#000"><text x="736.91" y="153.90" font-size="28.70">[</text><text x="760.85" y="153.90" font-size="28.70" xml:space="preserve">6]</text></g>
<g font-family="Liberation Sans, sans-serif" fill="#000"><text transform="translate(656.49,259.90) scale(1,1.035)" font-size="30.00" xml:space="preserve">EuTiO</text><text transform="translate(741.29,268.30) scale(1,1.035)" font-size="20.00">3-</text><text transform="translate(758.87,268.30) scale(1,1.035)" font-size="23.40" font-family="Liberation Serif, serif">δ</text></g>
<g font-family="Liberation Sans, sans-serif" fill="#000"><text transform="translate(189.37,384.60) scale(1,1.035)" font-size="30.00" xml:space="preserve">SrTi</text><text transform="translate(255.45,392.50) scale(1,1.035)" font-size="20.00" xml:space="preserve">-x</text><text transform="translate(271.89,384.60) scale(1,1.035)" font-size="30.00" xml:space="preserve">Nb</text><text transform="translate(310.71,392.50) scale(1,1.035)" font-size="20.00" xml:space="preserve">x</text><text transform="translate(319.74,384.60) scale(1,1.035)" font-size="30.00" xml:space="preserve">O</text><text transform="translate(343.14,392.50) scale(1,1.035)" font-size="20.00" xml:space="preserve">3</text></g>
<g font-family="Liberation Sans, sans-serif" fill="#000"><text x="365.41" y="384.50" font-size="28.70">[</text><text x="389.35" y="384.50" font-size="28.70" xml:space="preserve">5]</text></g>
<g font-family="Liberation Sans, sans-serif" fill="#000"><text transform="translate(189.37,427.70) scale(1,1.035)" font-size="30.00" xml:space="preserve">Sr</text><text transform="translate(230.45,435.60) scale(1,1.035)" font-size="20.00" xml:space="preserve">-x</text><text transform="translate(247.09,427.70) scale(1,1.035)" font-size="30.00" xml:space="preserve">La</text><text transform="translate(281.21,435.60) scale(1,1.035)" font-size="20.00" xml:space="preserve">x</text><text transform="translate(290.69,427.70) scale(1,1.035)" font-size="30.00" xml:space="preserve">TiO</text><text transform="translate(338.29,435.60) scale(1,1.035)" font-size="20.00" xml:space="preserve">3</text></g>
<g font-family="Liberation Sans, sans-serif" fill="#000"><text x="365.41" y="427.60" font-size="28.70">[</text><text x="389.35" y="427.60" font-size="28.70" xml:space="preserve">4]</text></g>
<g font-family="Liberation Sans, sans-serif" fill="#000"><text transform="translate(188.89,471.60) scale(1,1.035)" font-size="30.00" xml:space="preserve">K</text><text transform="translate(220.75,479.50) scale(1,1.035)" font-size="20.00" xml:space="preserve">-x</text><text transform="translate(237.09,471.60) scale(1,1.035)" font-size="30.00" xml:space="preserve">Ba</text><text transform="translate(274.61,479.50) scale(1,1.035)" font-size="20.00" xml:space="preserve">x</text><text transform="translate(283.99,471.60) scale(1,1.035)" font-size="30.00" xml:space="preserve">TaO</text><text transform="translate(341.59,479.50) scale(1,1.035)" font-size="20.00" xml:space="preserve">3</text></g>
<g font-family="Liberation Sans, sans-serif" fill="#000"><text x="365.41" y="471.50" font-size="28.70" xml:space="preserve">[45]</text></g>
</g>
</svg>
</body></html>
